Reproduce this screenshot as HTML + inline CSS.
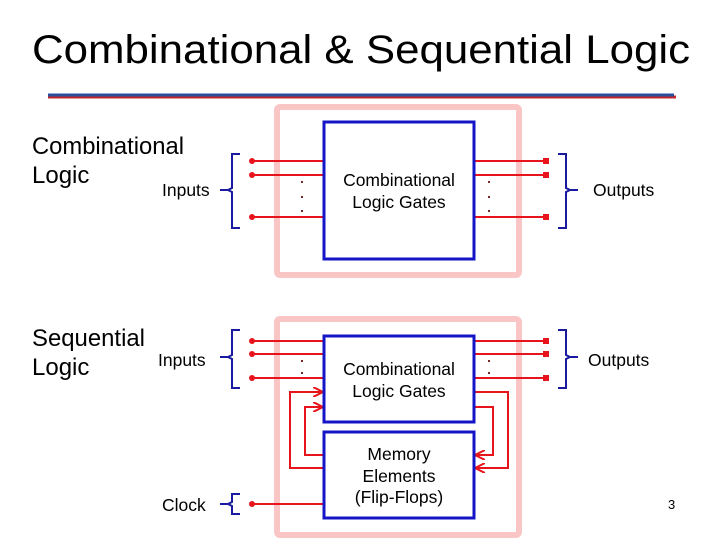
<!DOCTYPE html>
<html><head><style>body{margin:0;background:#fff}svg{display:block}</style></head>
<body>
<svg width="720" height="540" xmlns="http://www.w3.org/2000/svg" font-family="Liberation Sans, Arial, sans-serif">
<defs>
<marker id="ar" viewBox="0 0 10 10" refX="9" refY="5" markerWidth="5" markerHeight="5" orient="auto"><path d="M0,0 L10,5 L0,10" fill="none" stroke="#e8141c" stroke-width="2"/></marker>
</defs>
<text x="32" y="63" font-size="40" textLength="658" lengthAdjust="spacingAndGlyphs">Combinational &amp; Sequential Logic</text>
<line x1="48" y1="97" x2="676" y2="97" stroke="#c0282d" stroke-width="3"/>
<line x1="48" y1="95" x2="674" y2="95" stroke="#2a4d9c" stroke-width="3"/>

<g font-size="24"><text x="32" y="154" textLength="152" lengthAdjust="spacingAndGlyphs">Combinational</text><text x="32" y="183">Logic</text>
<text x="32" y="346" textLength="113" lengthAdjust="spacingAndGlyphs">Sequential</text><text x="32" y="375">Logic</text></g>
<g font-size="17.5"><text x="162" y="196">Inputs</text><text x="593" y="196">Outputs</text>
<text x="158" y="366">Inputs</text><text x="588" y="366">Outputs</text><text x="162" y="511">Clock</text>
<text x="668" y="509" font-size="13">3</text></g>

<rect x="277" y="107" width="242" height="168" rx="3" fill="none" stroke="#f9c5c5" stroke-width="6"/>
<rect x="277" y="319" width="242" height="216" rx="3" fill="none" stroke="#f9c5c5" stroke-width="6"/>

<g fill="none" stroke="#1a1aa0" stroke-width="2">
<path d="M240,154 h-8 v34 l-4,2 l4,2 v36 h8 M228,190 h-8"/>
<path d="M558,154 h8 v34 l4,2 l-4,2 v36 h-8 M570,190 h8"/>
<path d="M240,330 h-8 v25 l-4,2 l4,2 v29 h8 M228,357 h-8"/>
<path d="M558,330 h8 v25 l4,2 l-4,2 v29 h-8 M570,357 h8"/>
<path d="M240,494 h-8 v8 l-4,2 l4,2 v8 h8 M228,504 h-8"/>
</g>

<g stroke="#e8141c" stroke-width="2" fill="none">
<path d="M252,161H324M252,175H324M252,217H324M474,161H546M474,175H546M474,217H546"/>
<path d="M252,341H324M252,354H324M252,378H324M474,341H546M474,354H546M474,378H546M252,504H324"/>
<path d="M324,468H290V392H322" marker-end="url(#ar)"/>
<path d="M324,455H305V407H322" marker-end="url(#ar)"/>
<path d="M474,392H508V468H476" marker-end="url(#ar)"/>
<path d="M474,407H493V455H476" marker-end="url(#ar)"/>
</g>
<g fill="#e8141c">
<circle cx="252" cy="161" r="3"/><circle cx="252" cy="175" r="3"/><circle cx="252" cy="217" r="3"/>
<rect x="543" y="158" width="6" height="6"/><rect x="543" y="172" width="6" height="6"/><rect x="543" y="214" width="6" height="6"/>
<circle cx="252" cy="341" r="3"/><circle cx="252" cy="354" r="3"/><circle cx="252" cy="378" r="3"/>
<rect x="543" y="338" width="6" height="6"/><rect x="543" y="351" width="6" height="6"/><rect x="543" y="375" width="6" height="6"/>
<circle cx="252" cy="504" r="3"/>
</g>
<g fill="#7a2a2a">
<rect x="301" y="181" width="2" height="2"/><rect x="301" y="196" width="2" height="2"/><rect x="301" y="210" width="2" height="2"/>
<rect x="488" y="181" width="2" height="2"/><rect x="488" y="196" width="2" height="2"/><rect x="488" y="210" width="2" height="2"/>
<rect x="301" y="360" width="2" height="2"/><rect x="301" y="372" width="2" height="2"/>
<rect x="488" y="360" width="2" height="2"/><rect x="488" y="372" width="2" height="2"/>
</g>

<g fill="#fff" stroke="#1515c8" stroke-width="3">
<rect x="324" y="122" width="150" height="137"/>
<rect x="324" y="336" width="150" height="86"/>
<rect x="324" y="432" width="150" height="86"/>
</g>
<g font-size="17.5" text-anchor="middle">
<text x="399" y="186">Combinational</text><text x="399" y="208">Logic Gates</text>
<text x="399" y="375">Combinational</text><text x="399" y="397">Logic Gates</text>
<text x="399" y="460">Memory</text><text x="399" y="482">Elements</text><text x="399" y="503">(Flip-Flops)</text>
</g>
</svg>
</body></html>
